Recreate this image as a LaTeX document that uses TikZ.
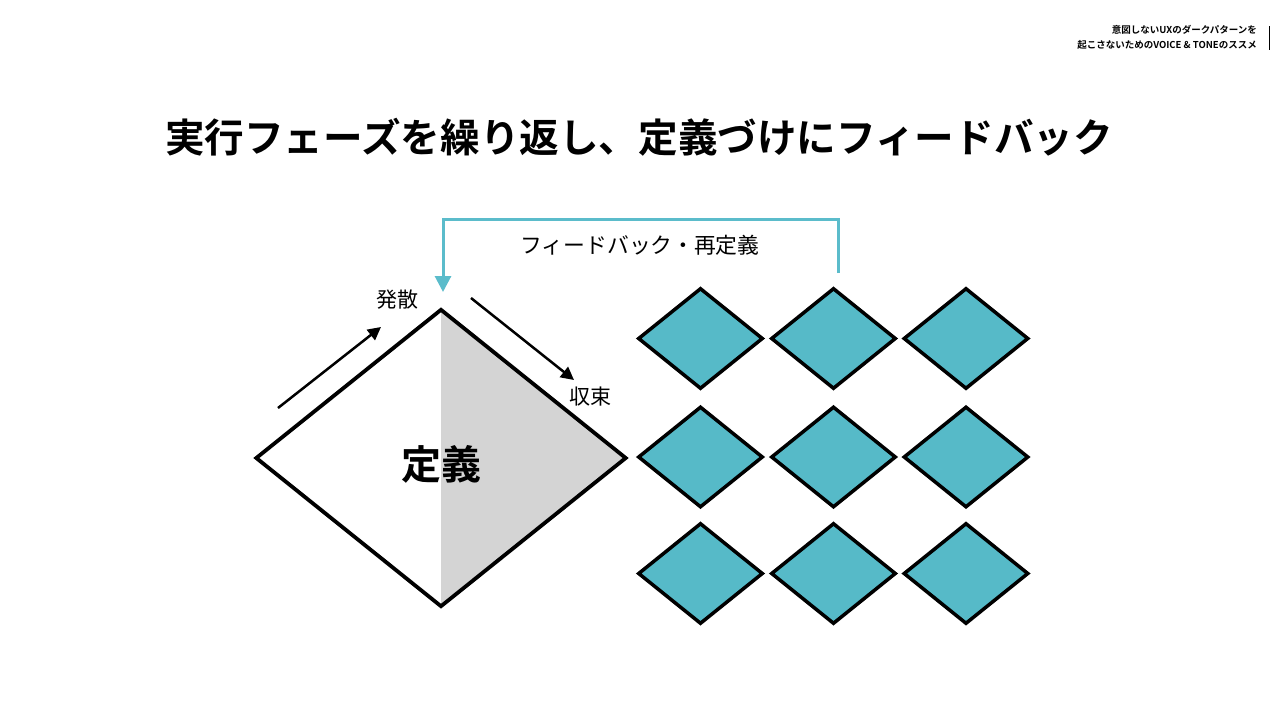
\documentclass[tikz,border=0pt]{standalone}
\usepackage{fontspec}
\setmainfont{Noto Sans CJK JP}
\newfontfamily\cjkb{Noto Sans CJK JP Bold}
\usetikzlibrary{shapes.geometric,arrows.meta}
\definecolor{teal1}{HTML}{56BAC8}
\definecolor{teal2}{HTML}{5BBCCB}
\definecolor{halfgray}{HTML}{D4D4D4}
\tikzset{
  tealdia/.style={diamond, draw=black, line width=3.5pt, fill=teal1, minimum width=125pt, minimum height=101pt, inner sep=0pt},
  bigdia/.style={diamond, minimum width=369pt, minimum height=296pt, inner sep=0pt},
  blkarrow/.style={line width=2.5pt, -{Triangle[length=13pt,width=13pt]}},
  fbarrow/.style={draw=teal2, line width=3pt, -{Triangle[length=16pt,width=16pt]}},
  lbl/.style={font=\fontsize{21}{25}\selectfont, inner sep=0pt},
}
\begin{document}
\begin{tikzpicture}[x=1pt,y=-1pt]
\useasboundingbox (0,0) rectangle (1280,720);
% header
\node[anchor=east, inner sep=0pt, font=\cjkb\fontsize{9.5}{11}\selectfont] (h1) at (1257,30) {意図しないUXのダークパターンを};
\node[anchor=east, inner sep=0pt, font=\cjkb\fontsize{9.5}{11}\selectfont] (h2) at (1257,45) {起こさないためのVOICE \& TONEのススメ};
\coordinate (vt) at (1269,26);
\coordinate (vb) at (1269,50);
\draw[line width=0.8pt] (vt) -- (vb);
% title
\node[inner sep=0pt, font=\cjkb\fontsize{39.6}{44}\selectfont] (title) at (639,137) {実行フェーズを繰り返し、定義づけにフィードバック};
% big diamond
\node[bigdia] (def) at (441,458) {};
\fill[halfgray] (def.north) -- (def.east) -- (def.south) -- cycle;
\draw[line width=3.8pt, line join=miter] (def.north) -- (def.east) -- (def.south) -- (def.west) -- cycle;
\node[inner sep=0pt, font=\cjkb\fontsize{40}{46}\selectfont] (deft) at (441,464) {定義};
% arrows
\coordinate (d1) at (278,408);
\coordinate (d2) at (381,327);
\draw[blkarrow] (d1) -- (d2);
\coordinate (c1) at (471,298);
\coordinate (c2) at (574,380);
\draw[blkarrow] (c1) -- (c2);
\node[lbl] (hs) at (397,300) {発散};
\node[lbl] (sk) at (590,397) {収束};
% teal diamonds
\foreach \c/\x in {1/700.5,2/833.5,3/966}{
  \foreach \r/\y in {1/338.5,2/457,3/573.5}{
    \node[tealdia] (t\r\c) at (\x,\y) {};
  }
}
% feedback
\coordinate (fbs) at (838,273);
\coordinate (fbe) at (443,292);
\draw[fbarrow] (fbs) -- ++(0,-54) -| (fbe);
\node[font=\fontsize{21.8}{26}\selectfont, inner sep=0pt] (fbt) at (640,245) {フィードバック・再定義};
\end{tikzpicture}
\end{document}
